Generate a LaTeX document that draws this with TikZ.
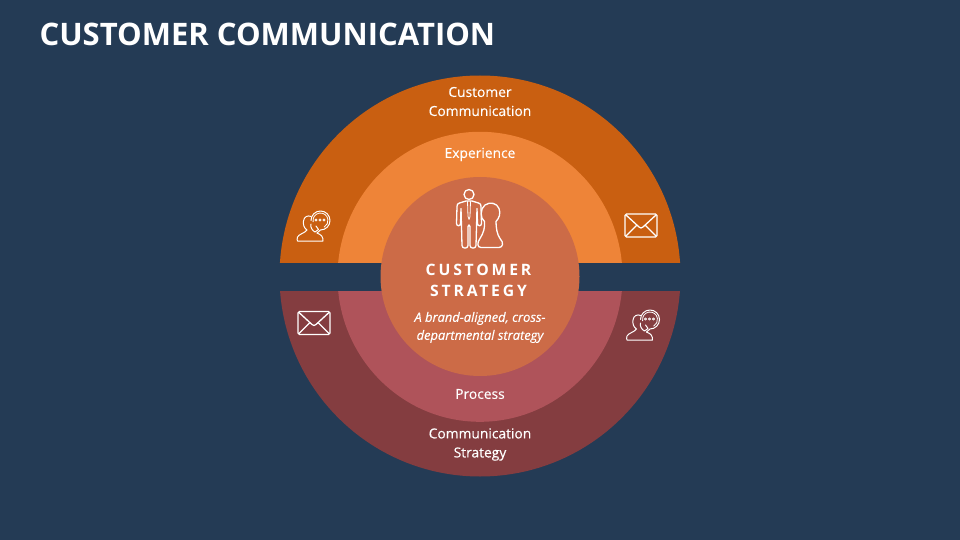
\documentclass[tikz,border=0pt]{standalone}
\usepackage{fontspec}
\usetikzlibrary{positioning}
\setmainfont{Open Sans}
\newfontfamily\spaced[LetterSpace=18]{Open Sans}
\newfontfamily\semi[FakeBold=0.25]{Open Sans}
\definecolor{bgblue}{HTML}{243B55}
\definecolor{darkorange}{HTML}{C95F11}
\definecolor{lightorange}{HTML}{EE8438}
\definecolor{coreorange}{HTML}{CC6B47}
\definecolor{lightred}{HTML}{AF535A}
\definecolor{darkred}{HTML}{843D40}
\tikzset{
  ringlabel/.style={text=white, align=center, font=\fontsize{13.8}{19}\selectfont\semi},
  icon/.style={draw=white, line width=1.3pt, line join=round, line cap=round},
  pics/mailicon/.style={code={
    \draw[icon, rounded corners=1.5pt] (-16,-11.5) rectangle (16,11.5);
    \draw[icon] (-15,-10.5) -- (-2,1.5) -- (0,2.5) -- (2,1.5) -- (15,-10.5);
    \draw[icon] (-15,10.5) -- (-4.5,0);
    \draw[icon] (15,10.5) -- (4.5,0);
  }},
  pics/agenticon/.style={code={
    % head and shoulders
    \draw[icon, line width=1pt] (-3,-9.5) .. controls (-6,-11) and (-10,-9.5) .. (-10.5,-5)
      .. controls (-11,-1) and (-10,2) .. (-7,4)
      .. controls (-9,7) and (-15,8) .. (-16.5,11)
      .. controls (-17,13) and (-17,14) .. (-16.5,15) -- (9,15)
      .. controls (9,11) and (8,9) .. (3,7);
    % speech ring
    \draw[icon, line width=1pt] (6.5,-5.5) ++(180:9.5) arc (180:450:9.5) -- (3,7);
    \draw[icon, line width=.8pt] (6.5,-5.5) ++(170:7.5) arc (170:420:7.5);
    \draw[icon, line width=1pt] (-3,-2) .. controls (-4,2) and (-1,5) .. (1,6) -- (4.5,3.5) -- (2,0);
    \foreach \dotx in {2,6,10}
      \draw[icon, line width=.8pt] (\dotx,-6) circle (1.1);
  }},
  pics/coupleicon/.style={code={
    % man
    \draw[icon] (0,0) circle (5);
    \draw[icon] (-3,6.5) -- (3,6.5) -- (9.5,8.5) .. controls (11.5,9) and (12,10) .. (12,12)
      -- (12.5,29) .. controls (12.5,32) and (8.5,32) .. (8.5,29) -- (8,14)
      -- (7,51) .. controls (7,54.5) and (1,54.5) .. (1,51) -- (1,32)
      .. controls (1,30) and (-1,30) .. (-1,32) -- (-1,51)
      .. controls (-1,54.5) and (-7,54.5) .. (-7,51) -- (-8,14)
      -- (-8.5,29) .. controls (-8.5,32) and (-12.5,32) .. (-12.5,29) -- (-12,12)
      .. controls (-12,10) and (-11.5,9) .. (-9.5,8.5) -- cycle;
    \draw[icon, line width=.8pt] (-1.5,7) -- (-1,22) -- (0,25) -- (1,22) -- (1.5,7);
    % woman
    \draw[fill=coreorange, icon] (12,53) .. controls (8,53) and (8,48) .. (11,44)
      .. controls (15,38) and (16,32) .. (15.5,27)
      .. controls (11,24) and (11,14) .. (16,10.5)
      .. controls (21,7) and (28,8.5) .. (30,14)
      .. controls (32,19) and (30,24) .. (27,27)
      .. controls (27,33) and (28,40) .. (31,44)
      .. controls (35,48) and (34,53) .. (30,53) -- cycle;
  }}
}
\begin{document}
\begin{tikzpicture}[x=1pt,y=-1pt]
\useasboundingbox[fill=bgblue] (0,0) rectangle (960,540);
% Title
\node[anchor=west, text=white, font=\fontsize{31}{38}\selectfont\bfseries] (title) at (36,34) {CUSTOMER COMMUNICATION};
% Upper half
\begin{scope}
\clip (270,60) rectangle (690,262);
\fill[darkorange] (480,276) circle (200.5);
\fill[lightorange] (480,276.8) ellipse (142.5 and 145);
\end{scope}
% Lower half
\begin{scope}
\clip (270,291) rectangle (690,490);
\fill[darkred] (480,276) circle (200.5);
\fill[lightred] (480,276.8) ellipse (142.5 and 145);
\end{scope}
% Middle circle
\fill[coreorange] (480,276.5) circle (99.5);
% Labels
\node[ringlabel] (customer) at (480,101.5) {Customer\\Communication};
\node[ringlabel] (experience) at (480,154.5) {Experience};
\node[ringlabel] (process) at (480,394) {Process};
\node[ringlabel] (commstrategy) at (480,444.5) {Communication\\Strategy};
\node[text=white, align=center, font=\fontsize{15.7}{21}\selectfont\spaced\bfseries] (strategy) at (478.5,280.5) {CUSTOMER\\STRATEGY};
\node[text=white, align=center, font=\fontsize{12.9}{18}\selectfont\semi\itshape, below=11.5pt of strategy.south, xshift=1.5pt, inner sep=0pt] (tagline) {A brand-aligned, cross-\\departmental strategy};
% Icons
\pic at (469,194.5) {coupleicon};
\pic at (314,226) {agenticon};
\pic at (643.5,325) {agenticon};
\pic at (641,225.5) {mailicon};
\pic at (314,323) {mailicon};
\end{tikzpicture}
\end{document}
